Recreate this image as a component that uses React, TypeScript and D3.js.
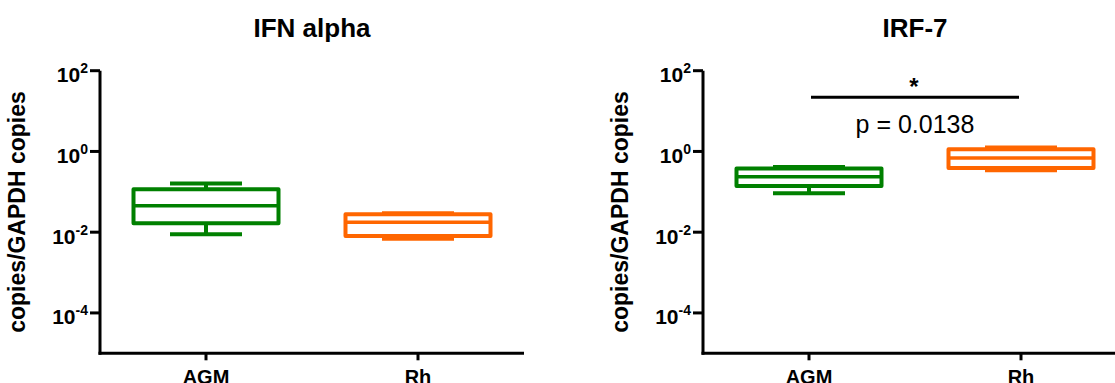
import React from "react";
import * as d3 from "d3";

// Groups shown on each x axis
const categories = ["AGM", "Rh"];
const groupColors = ["#008000", "#FF6600"];

// Box summaries per group: [whisker low, Q1, median, Q3, whisker high]
const ifnAlphaBoxes = [
  [0.0089, 0.0166, 0.045, 0.116, 0.16],
  [0.0069, 0.0081, 0.0176, 0.0278, 0.0294],
];
const irf7Boxes = [
  [0.092, 0.14, 0.235, 0.38, 0.41],
  [0.34, 0.39, 0.69, 1.14, 1.26],
];

// Log-axis ticks (powers of ten)
const tickExponents = [2, 0, -2, -4];
const yDomain = [1e-5, 1e2];

const pValueLabel = "p = 0.0138";
const sigMark = "*";
const sigLineValue = 22;

const W = 1115;
const H = 383;
const FONT = "'Liberation Sans', Arial, Helvetica, sans-serif";

type PanelProps = {
  title: string;
  left: number;
  boxes: number[][];
  showSig?: boolean;
};

function Panel({ title, left, boxes, showSig }: PanelProps) {
  const axisW = 424;
  const yTop = 70.7;
  const yBot = 353.3;
  const x = d3.scalePoint<string>().domain(categories).range([left, left + axisW]).padding(0.5);
  const y = d3.scaleLog().domain(yDomain).range([yBot, yTop]);
  const boxW = 145;
  const capW = 72;

  return (
    <g>
      <text
        x={left + axisW / 2}
        y={36.5}
        textAnchor="middle"
        fontFamily={FONT}
        fontWeight="bold"
        fontSize={26}
      >
        {title}
      </text>

      {/* y axis */}
      <line x1={left} x2={left} y1={yTop} y2={yBot + 1.5} stroke="#000" strokeWidth={3} />
      {tickExponents.map((e) => {
        const ty = y(Math.pow(10, e));
        return (
          <g key={e}>
            <line x1={left - 10} x2={left} y1={ty} y2={ty} stroke="#000" strokeWidth={3} />
            <text
              x={left - 12}
              y={ty + 11.5}
              textAnchor="end"
              fontFamily={FONT}
              fontWeight="bold"
              fontSize={21}
            >
              10
              <tspan fontSize={14} dy={-9}>
                {String(e)}
              </tspan>
            </text>
          </g>
        );
      })}
      <text
        transform={`translate(${left - 75},${(yTop + yBot) / 2 + 0}) rotate(-90)`}
        textAnchor="middle"
        fontFamily={FONT}
        fontWeight="bold"
        fontSize={23}
      >
        copies/GAPDH copies
      </text>

      {/* x axis */}
      <line x1={left - 1.5} x2={left + axisW} y1={yBot} y2={yBot} stroke="#000" strokeWidth={3} />
      {categories.map((c) => (
        <g key={c}>
          <line x1={x(c)} x2={x(c)} y1={yBot} y2={yBot + 7} stroke="#000" strokeWidth={3} />
          <text
            x={x(c)}
            y={383.5}
            textAnchor="middle"
            fontFamily={FONT}
            fontWeight="bold"
            fontSize={20}
          >
            {c}
          </text>
        </g>
      ))}

      {/* boxes */}
      {boxes.map((b, i) => {
        const cx = x(categories[i]) as number;
        const col = groupColors[i];
        const [lo, q1, med, q3, hi] = b;
        return (
          <g key={i} stroke={col} strokeWidth={4} fill="none" strokeLinejoin="round">
            <line x1={cx} x2={cx} y1={y(hi)} y2={y(q3)} />
            <line x1={cx} x2={cx} y1={y(q1)} y2={y(lo)} />
            <line x1={cx - capW / 2} x2={cx + capW / 2} y1={y(hi)} y2={y(hi)} />
            <line x1={cx - capW / 2} x2={cx + capW / 2} y1={y(lo)} y2={y(lo)} />
            <rect x={cx - boxW / 2} y={y(q3)} width={boxW} height={y(q1) - y(q3)} fill="#fff" />
            <line x1={cx - boxW / 2} x2={cx + boxW / 2} y1={y(med)} y2={y(med)} strokeWidth={3.5} />
          </g>
        );
      })}

      {showSig && (
        <g>
          <line
            x1={(x(categories[0]) as number) + 2}
            x2={(x(categories[1]) as number) - 2}
            y1={y(sigLineValue)}
            y2={y(sigLineValue)}
            stroke="#000"
            strokeWidth={3.2}
          />
          <text
            x={left + axisW / 2 - 1}
            y={95}
            textAnchor="middle"
            fontFamily={FONT}
            fontWeight="bold"
            fontSize={24}
          >
            {sigMark}
          </text>
          <text
            x={left + axisW / 2}
            y={132.5}
            textAnchor="middle"
            fontFamily={FONT}
            fontSize={25}
          >
            {pValueLabel}
          </text>
        </g>
      )}
    </g>
  );
}

export default function App() {
  return (
    <svg
      width={W}
      height={H}
      viewBox={`0 0 ${W} ${H}`}
      style={{ position: "absolute", left: 0, top: 0, background: "#fff" }}
    >
      <rect width={W} height={H} fill="#fff" />
      <Panel title="IFN alpha" left={100} boxes={ifnAlphaBoxes} />
      <Panel title="IRF-7" left={703} boxes={irf7Boxes} showSig />
    </svg>
  );
}
